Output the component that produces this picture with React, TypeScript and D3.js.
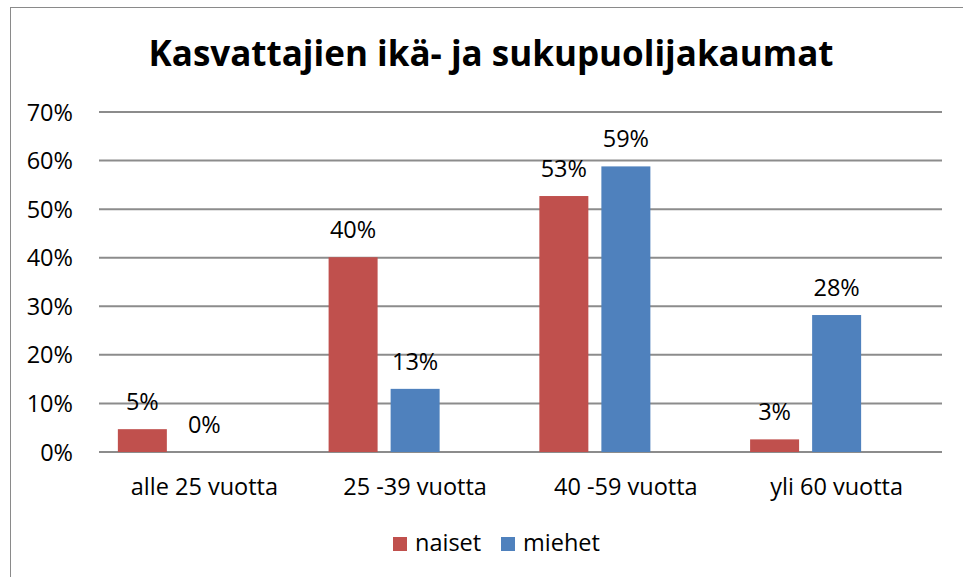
import * as React from "react"
import * as d3 from "d3"

const title = "Kasvattajien ikä- ja sukupuolijakaumat"
const categories = ["alle 25 vuotta", "25 -39 vuotta", "40 -59 vuotta", "yli 60 vuotta"]
const seriesNames = ["naiset", "miehet"]
const seriesColors = ["#C0504D", "#4F81BD"]
const naiset = [0.047, 0.401, 0.527, 0.026]
const miehet = [0.0, 0.13, 0.588, 0.282]
const yTicks = [0, 0.1, 0.2, 0.3, 0.4, 0.5, 0.6, 0.7]

const font = "'Open Sans', sans-serif"
const fontSize = 23.5

function render(svgRef: React.RefObject<SVGSVGElement>) {
  const width = 963
  const height = 577
  const svg = d3.select(svgRef.current).attr("width", width).attr("height", height)

  const margin = { top: 112, right: 21, bottom: 125, left: 99 }

  // chart border (only top/left visible in the window)
  svg
    .selectAll(".frame")
    .data([1])
    .join("rect")
    .attr("class", "frame")
    .attr("x", 10.5)
    .attr("y", 7.5)
    .attr("width", 1000)
    .attr("height", 700)
    .attr("fill", "white")
    .attr("stroke", "#8a8a8a")
    .attr("stroke-width", 1)

  svg
    .selectAll(".title")
    .data([title])
    .join("text")
    .attr("class", "title")
    .attr("x", 491)
    .attr("y", 66)
    .attr("text-anchor", "middle")
    .attr("font-family", font)
    .attr("font-weight", "bold")
    .attr("font-size", 35)
    .attr("fill", "#000")
    .text((d) => d)

  const xScale = d3
    .scaleBand<string>()
    .domain(categories)
    .range([margin.left, width - margin.right])
    .padding(0)

  // third empty slot keeps the spacing of the original chart
  const inner = d3
    .scaleBand<string>()
    .domain([...seriesNames, ""])
    .range([0, xScale.bandwidth()])
    .paddingInner(0.21)
    .paddingOuter(0.304)

  const yScale = d3
    .scaleLinear()
    .domain([0, 0.7])
    .range([height - margin.bottom, margin.top])

  const pct = d3.format(".0%")

  // gridlines
  svg
    .selectAll(".grid")
    .data(yTicks)
    .join("line")
    .attr("class", "grid")
    .attr("x1", margin.left)
    .attr("x2", width - margin.right)
    .attr("y1", (d) => yScale(d))
    .attr("y2", (d) => yScale(d))
    .attr("stroke", "#8c8c8c")
    .attr("stroke-width", 2)

  svg
    .selectAll(".ytick")
    .data(yTicks)
    .join("text")
    .attr("class", "ytick")
    .attr("x", 73)
    .attr("y", (d) => yScale(d) + 8.5)
    .attr("text-anchor", "end")
    .attr("font-family", font)
    .attr("font-size", fontSize)
    .attr("fill", "#000")
    .text((d) => pct(d))

  const bars = categories.flatMap((c, i) => [
    { cat: c, series: seriesNames[0], value: naiset[i], color: seriesColors[0] },
    { cat: c, series: seriesNames[1], value: miehet[i], color: seriesColors[1] },
  ])

  svg
    .selectAll(".bar")
    .data(bars)
    .join("rect")
    .attr("class", "bar")
    .attr("x", (d) => xScale(d.cat) + inner(d.series))
    .attr("y", (d) => yScale(d.value))
    .attr("width", inner.bandwidth())
    .attr("height", (d) => yScale(0) - yScale(d.value))
    .attr("fill", (d) => d.color)

  svg
    .selectAll(".vlabel")
    .data(bars)
    .join("text")
    .attr("class", "vlabel")
    .attr("x", (d) => xScale(d.cat) + inner(d.series) + inner.bandwidth() / 2)
    .attr("y", (d) => yScale(d.value) - 19)
    .attr("text-anchor", "middle")
    .attr("font-family", font)
    .attr("font-size", fontSize)
    .attr("fill", "#000")
    .text((d) => pct(d.value))

  svg
    .selectAll(".xlabel")
    .data(categories)
    .join("text")
    .attr("class", "xlabel")
    .attr("x", (d) => xScale(d) + xScale.bandwidth() / 2)
    .attr("y", 495)
    .attr("text-anchor", "middle")
    .attr("font-family", font)
    .attr("font-size", fontSize)
    .attr("fill", "#000")
    .text((d) => d)

  // legend
  const legendX = [393, 501]
  const legend = svg
    .selectAll(".legend")
    .data(seriesNames)
    .join("g")
    .attr("class", "legend")
    .attr("transform", (d, i) => `translate(${legendX[i]},537)`)

  legend
    .selectAll("rect")
    .data((d, i) => [i])
    .join("rect")
    .attr("width", 14)
    .attr("height", 14)
    .attr("fill", (i) => seriesColors[i])

  legend
    .selectAll("text")
    .data((d) => [d])
    .join("text")
    .attr("x", 22)
    .attr("y", 14)
    .attr("font-family", font)
    .attr("font-size", fontSize)
    .attr("fill", "#000")
    .text((d) => d)
}

export default function App(): React.JSX.Element {
  const svg = React.useRef<SVGSVGElement>(null)

  React.useEffect(() => {
    render(svg)
  }, [])

  return (
    <svg
      ref={svg}
      style={{ position: "absolute", left: 0, top: 0, background: "white" }}
    ></svg>
  )
}
